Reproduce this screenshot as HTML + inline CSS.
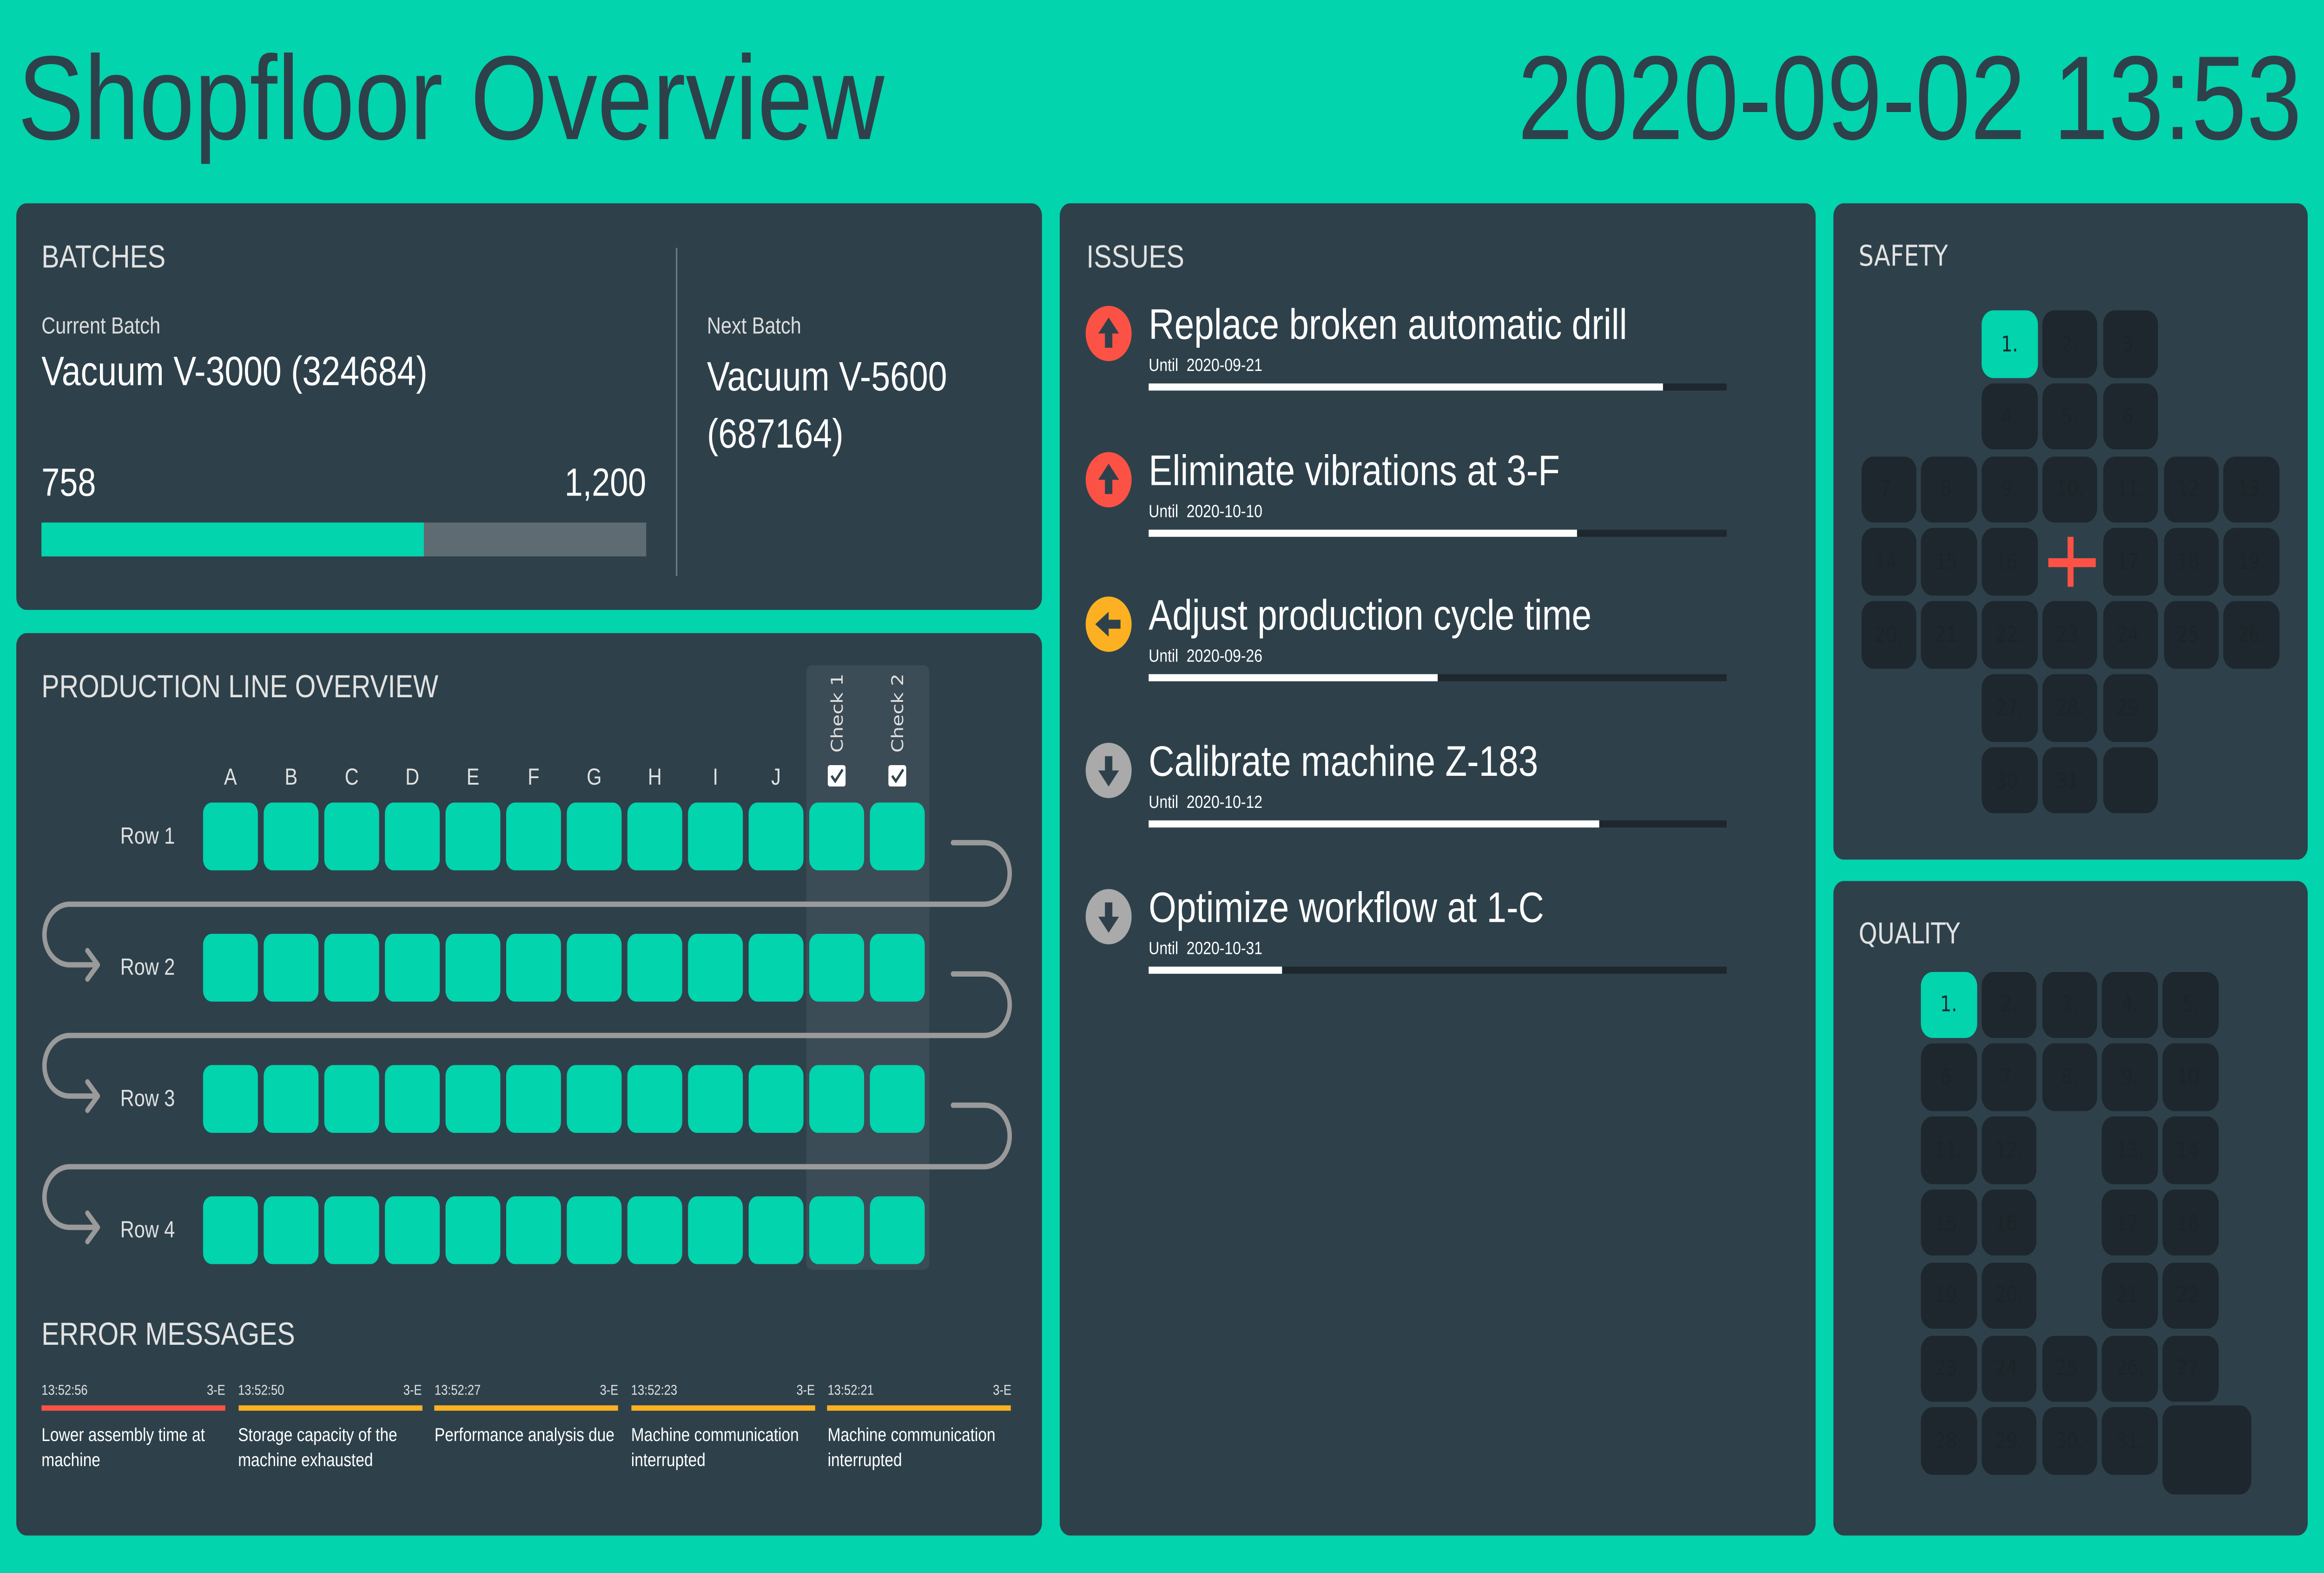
<!DOCTYPE html>
<html><head><meta charset="utf-8">
<style>
html,body{margin:0;padding:0;width:100%;height:100vh;overflow:hidden;background:#02d4ad;}
#root{position:absolute;left:0;top:0;width:1568px;height:882px;transform:scale(3.83673);transform-origin:0 0;font-family:"Liberation Sans Narrow","Liberation Sans",sans-serif;color:#fff;}
.abs{position:absolute;}
.panel{position:absolute;background:#2e414b;border-radius:7px;}
.ptitle{position:absolute;font-size:18px;color:#e2e2e2;white-space:nowrap;}
.t{position:absolute;white-space:nowrap;}
</style></head><body>
<div id="root">
  <div class="t" style="left:12px;top:17px;font-size:67px;color:#2e414b;">Shopfloor Overview</div>
  <div class="t" style="right:15px;top:17px;font-size:67px;color:#2e414b;">2020-09-02 13:53</div>

  <div class="panel" style="left:11px;top:114px;width:692px;height:228px;">
    <div class="ptitle" style="left:17px;top:20px;">BATCHES</div>
    <div class="t" style="left:17px;top:61px;font-size:13px;color:#ddd;">Current Batch</div>
    <div class="t" style="left:17px;top:81px;font-size:23px;">Vacuum V-3000 (324684)</div>
    <div class="t" id="bDone" style="left:17px;top:144px;font-size:22px;"></div>
    <div class="t" id="bTotal" style="right:267px;top:144px;font-size:22px;"></div>
    <div class="abs" style="left:17px;top:179px;width:408px;height:19px;background:#5f6b72;">
      <div id="bFill" style="height:100%;background:#02d4ad;"></div>
    </div>
    <div class="abs" style="left:445px;top:25px;width:1px;height:184px;background:#6c7a82;"></div>
    <div class="t" style="left:466px;top:61px;font-size:13px;color:#ddd;">Next Batch</div>
    <div class="t" style="left:466px;top:81px;font-size:23px;line-height:32px;">Vacuum V-5600<br>(687164)</div>
  </div>

  <div class="panel" style="left:11px;top:355px;width:692px;height:506px;">
    <div class="ptitle" style="left:17px;top:20px;">PRODUCTION LINE OVERVIEW</div>
    <svg id="prod" class="abs" style="left:0;top:0;" width="692" height="506"></svg>
    <div class="ptitle" style="left:17px;top:383px;">ERROR MESSAGES</div>
    <div id="errs" class="abs" style="left:0;top:0;"></div>
  </div>

  <div class="panel" style="left:715px;top:114px;width:510px;height:747px;">
    <div class="ptitle" style="left:18px;top:20px;">ISSUES</div>
    <div id="issues" class="abs" style="left:0;top:0;"></div>
  </div>

  <div class="panel" style="left:1237px;top:114px;width:320px;height:368px;">
    <div class="ptitle" style="left:17px;top:20px;font-family:'DejaVu Sans',sans-serif;font-size:16px;">SAFETY</div>
    <div id="safety" class="abs" style="left:0;top:0;"></div>
  </div>

  <div class="panel" style="left:1237px;top:494px;width:320px;height:367px;">
    <div class="ptitle" style="left:17px;top:20px;font-family:'DejaVu Sans',sans-serif;font-size:16px;">QUALITY</div>
    <div id="quality" class="abs" style="left:0;top:0;"></div>
  </div>
</div>
<script>
const batchDone = 758;
const batchTotal = 1200;
const columns = ["A","B","C","D","E","F","G","H","I","J"];
const checks = ["Check 1","Check 2"];
const rows = ["Row 1","Row 2","Row 3","Row 4"];
const errTimes = ["13:52:56","13:52:50","13:52:27","13:52:23","13:52:21"];
const errCodes = ["3-E","3-E","3-E","3-E","3-E"];
const errTexts = ["Lower assembly time at machine","Storage capacity of the machine exhausted","Performance analysis due","Machine communication interrupted","Machine communication interrupted"];
const errLevels = ["high","medium","medium","medium","medium"];
const issueTitles = ["Replace broken automatic drill","Eliminate vibrations at 3-F","Adjust production cycle time","Calibrate machine Z-183","Optimize workflow at 1-C"];
const issueDates = ["2020-09-21","2020-10-10","2020-09-26","2020-10-12","2020-10-31"];
const issueProgress = [0.89,0.74,0.50,0.78,0.23];
const issuePriority = ["high","high","medium","low","low"];

(function fit(){
  const w = window.innerWidth || document.documentElement.clientWidth;
  const h = window.innerHeight || document.documentElement.clientHeight;
  if (w && h) {
    document.getElementById('root').style.transform = 'scale(' + (w/1568) + ',' + (h/882) + ')';
  }
})();

const NS="http://www.w3.org/2000/svg";
document.getElementById('bDone').textContent = batchDone;
document.getElementById('bTotal').textContent = batchTotal.toLocaleString('en-US');
document.getElementById('bFill').style.width = (batchDone/batchTotal*100)+'%';

const prod=document.getElementById('prod');
function mk(tag,attrs,parent){const e=document.createElementNS(NS,tag);for(const k in attrs)e.setAttribute(k,attrs[k]);(parent||prod).appendChild(e);return e;}
const colX=i=>126+i*40.9;
const rowY=r=>95+r*73.6;
const hl=mk('rect',{x:533,y:18,width:83,height:339,rx:4,fill:'#3c4c56'});


const allCols=columns.concat(checks);
allCols.forEach((c,i)=>{
  const cx=colX(i)+18.5;
  if(i<columns.length){
    const t=mk('text',{x:cx,y:85,'text-anchor':'middle','font-size':13,fill:'#e0e0e0','font-family':'Liberation Sans Narrow, Liberation Sans, sans-serif'});
    t.textContent=c;
    
    
  } else {
    const t=mk('text',{x:0,y:0,transform:`translate(${cx+4},67) rotate(-90)`,'font-size':11,fill:'#e0e0e0','font-family':'DejaVu Sans, sans-serif'});
    t.textContent=c;
    
    
    const b=mk('rect',{x:cx-6,y:74,width:12,height:12,rx:1.5,fill:'#fff'});
    
    
    const p=mk('path',{d:`M${cx-3.5} ${80} L${cx-1} ${83} L${cx+4} ${76.5}`,stroke:'#2e414b','stroke-width':1.5,fill:'none'});
    
    
  }
});
rows.forEach((r,ri)=>{
  const y=rowY(ri);
  const t=mk('text',{x:107,y:y+23,'text-anchor':'end','font-size':13,fill:'#e0e0e0','font-family':'Liberation Sans Narrow, Liberation Sans, sans-serif'});
  t.textContent=r;
  
  
  allCols.forEach((c,i)=>{
    const cell=mk('rect',{x:colX(i),y:y,width:37,height:38,rx:6,fill:'#02d4ad'});
    
    
  });
  if(ri<rows.length-1){
    const y0=y+22.5, y1=y+57, y2=y+91;
    const path=mk('path',{d:`M632 ${y0} H653 A17.25 17.25 0 0 1 653 ${y1} H36 A17 17 0 0 0 36 ${y2} H54 M48 ${y2-8} L55 ${y2} L48 ${y2+8}`,stroke:'#9a9a9a','stroke-width':3,fill:'none','stroke-linecap':'round','stroke-linejoin':'round'});
    
    
  }
});

const errs=document.getElementById('errs');
errTimes.forEach((tm,i)=>{
  const d=document.createElement('div');
  
  
  d.style.cssText=`position:absolute;left:${17+i*132.6}px;top:420px;width:124px;`;
  const col=errLevels[i]==='high'?'#fc5245':'#fdb022';
  d.innerHTML=`<div style="position:relative;height:10px;font-size:8px;color:#e0e0e0;"><span style="position:absolute;left:0;top:0">${tm}</span><span style="position:absolute;right:0;top:0">${errCodes[i]}</span></div><div style="height:3px;background:${col};margin-top:3px;"></div><div style="font-size:10.5px;line-height:14px;margin-top:7px;color:#fff;">${errTexts[i]}</div>`;
  errs.appendChild(d);
});

const issues=document.getElementById('issues');
issueTitles.forEach((tt,i)=>{
  const top=55+i*81.7;
  const d=document.createElement('div');
  
  
  d.style.cssText=`position:absolute;left:0;top:${top}px;width:510px;height:70px;`;
  const col=issuePriority[i]==='high'?'#fc5245':issuePriority[i]==='medium'?'#fdb022':'#aaaaaa';
  let arrow;
  if(issuePriority[i]==='high') arrow='M0 -9 L7 0 L2.5 0 L2.5 8 L-2.5 8 L-2.5 0 L-7 0 Z';
  else if(issuePriority[i]==='medium') arrow='M-9 0 L0 -7 L0 -2.5 L8 -2.5 L8 2.5 L0 2.5 L0 7 Z';
  else arrow='M0 9 L7 0 L2.5 0 L2.5 -8 L-2.5 -8 L-2.5 0 L-7 0 Z';
  d.innerHTML=`<svg style="position:absolute;left:17px;top:2px" width="32" height="32"><circle cx="16" cy="16" r="15.5" fill="${col}"/><path transform="translate(16,16)" d="${arrow}" fill="#2e414b"/></svg>
  <div style="position:absolute;left:60px;top:0px;font-size:24px;white-space:nowrap;">${tt}</div>
  <div style="position:absolute;left:60px;top:31px;font-size:10px;white-space:nowrap;">Until&nbsp; ${issueDates[i]}</div>
  <div style="position:absolute;left:60px;top:46px;width:390px;height:4px;background:#1e272e;"><div style="height:100%;width:${issueProgress[i]*100}%;background:#fff;"></div></div>`;
  issues.appendChild(d);
});

function calendar(el,layout,x0,y0,bigLast){
  const host=document.getElementById(el);
  let n=1;
  layout.forEach((row,r)=>{
    for(let c=0;c<row.length;c++){
      const ch=row[c];
      if(ch==='.') continue;
      const d=document.createElement('div');
      const x=x0+c*40.8, y=y0+r*40.8;
      if(ch==='+'){
        
        
        d.style.cssText=`position:absolute;left:${x}px;top:${y}px;width:37px;height:37px;`;
        d.innerHTML='<div style="position:absolute;left:17px;top:5px;width:4.5px;height:28px;background:#fc5245"></div><div style="position:absolute;left:4px;top:17px;width:32px;height:4.5px;background:#fc5245"></div>';
        host.appendChild(d);continue;
      }
      const isLast=ch==='L';
      const active=n===1;
      
      
      const w=isLast&&bigLast?60:37.5, h=isLast&&bigLast?50:37.5;
      d.style.cssText=`position:absolute;left:${x}px;top:${y-(isLast&&bigLast?1:0)}px;width:${w}px;height:${h}px;border-radius:8px;background:${active?'#02d4ad':'#1e272e'};color:${active?'#1e272e':'#1b2429'};font-family:'DejaVu Sans',sans-serif;font-size:12px;display:flex;align-items:center;justify-content:center;`;
      if(!isLast){d.textContent=n+'.';n++;}
      host.appendChild(d);
    }
  });
}
calendar('safety',["..###..","..###..","#######","###+###","#######","..###..","..##L.."],18.5,60,false);
calendar('quality',["#####","#####","##.##","##.##","##.##","#####","####L"],59,50.5,true);
</script>
</body></html>
